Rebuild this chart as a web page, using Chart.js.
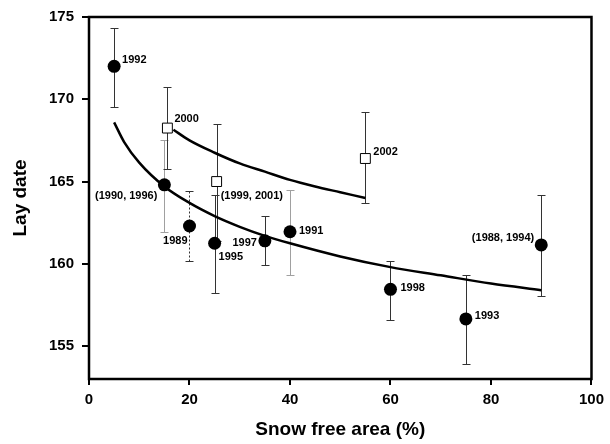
<!DOCTYPE html>
<html>
<head>
<meta charset="utf-8">
<script src="https://cdn.jsdelivr.net/npm/chart.js@4.4.1/dist/chart.umd.min.js"></script>
<style>
  html, body { margin: 0; padding: 0; background: #fff; }
</style>
</head>
<body>
<canvas id="chart" width="610" height="444"></canvas>
<script>
// Filled circles (years in pre-2000 group)
const circleLabels = ['1992', '(1990, 1996)', '1989', '1995', '1997', '1991', '1998', '1993', '(1988, 1994)'];
const circleX = [5, 15, 20, 25, 35, 40, 60, 75, 90];
const circleY = [172.0, 164.8, 162.3, 161.25, 161.4, 161.95, 158.45, 156.65, 161.15];
const circleLo = [169.55, 161.95, 160.2, 158.25, 159.9, 159.35, 156.6, 153.9, 158.05];
const circleHi = [174.35, 167.55, 164.4, 164.2, 162.9, 164.5, 160.2, 159.35, 164.2];

// Open squares (2000s)
const squareLabels = ['2000', '(1999, 2001)', '2002'];
const squareX = [15.6, 25.4, 55];
const squareY = [168.25, 165.0, 166.4];
const squareLo = [165.75, 161.4, 163.7];
const squareHi = [170.75, 168.5, 169.25];

// Fitted curves
const lowerFitX = [5, 7, 10, 15, 20, 25, 30, 35, 40, 50, 60, 70, 80, 90];
const lowerFitY = [168.6, 167.4, 166.15, 164.7, 163.7, 162.9, 162.25, 161.7, 161.25, 160.45, 159.8, 159.3, 158.8, 158.4];
const upperFitX = [16.8, 20, 25, 30, 35, 40, 45, 50, 55];
const upperFitY = [168.15, 167.5, 166.75, 166.1, 165.6, 165.1, 164.7, 164.35, 164.0];

const yTicks = [155, 160, 165, 170, 175];

const FONT = 'Liberation Sans, Arial, sans-serif';

function toPoints(xs, ys) {
    return xs.map((v, i) => ({ x: v, y: ys[i] }));
}

// error bars drawn under the markers
const errorBars = {
    id: 'errorBars',
    beforeDatasetsDraw(chart) {
        const { ctx, scales: { x, y } } = chart;
        const grey = ['(1990, 1996)', '1991'];
        const dotted = ['1989'];

        function bar(xv, lo, hi, label) {
            const px = Math.round(x.getPixelForValue(xv)) + 0.5;
            const p1 = Math.round(y.getPixelForValue(lo)) + 0.5;
            const p2 = Math.round(y.getPixelForValue(hi)) + 0.5;
            ctx.save();
            ctx.strokeStyle = grey.includes(label) ? '#a0a0a0' : '#333';
            ctx.lineWidth = 1;
            if (dotted.includes(label)) ctx.setLineDash([2, 2]);
            ctx.beginPath();
            ctx.moveTo(px, p1);
            ctx.lineTo(px, p2);
            ctx.stroke();
            ctx.setLineDash([]);
            ctx.beginPath();
            ctx.moveTo(px - 4, p1); ctx.lineTo(px + 4, p1);
            ctx.moveTo(px - 4, p2); ctx.lineTo(px + 4, p2);
            ctx.stroke();
            ctx.restore();
        }

        circleX.forEach((v, i) => bar(v, circleLo[i], circleHi[i], circleLabels[i]));
        squareX.forEach((v, i) => bar(v, squareLo[i], squareHi[i], squareLabels[i]));
    }
};

// year labels next to the markers
const yearLabels = {
    id: 'yearLabels',
    afterDatasetsDraw(chart) {
        const { ctx, scales: { x, y } } = chart;
        // [dx, dy, align]
        const place = {
            '1992': [8, -6, 'left'],
            '(1990, 1996)': [-7, 11, 'right'],
            '1989': [-2, 15, 'right'],
            '1995': [4, 14, 'left'],
            '1997': [-8, 2, 'right'],
            '1991': [9, -1, 'left'],
            '1998': [10, -1, 'left'],
            '1993': [9, -3, 'left'],
            '(1988, 1994)': [-7, -7, 'right'],
            '2000': [7, -9, 'left'],
            '(1999, 2001)': [4, 14, 'left'],
            '2002': [8, -7, 'left']
        };
        ctx.save();
        ctx.font = 'bold 11px ' + FONT;
        ctx.fillStyle = '#000';
        ctx.textBaseline = 'middle';
        function put(label, xv, yv) {
            const p = place[label];
            ctx.textAlign = p[2];
            ctx.fillText(label, x.getPixelForValue(xv) + p[0], y.getPixelForValue(yv) + p[1]);
        }
        circleLabels.forEach((l, i) => put(l, circleX[i], circleY[i]));
        squareLabels.forEach((l, i) => put(l, squareX[i], squareY[i]));
        ctx.restore();
    }
};

// frame round the plot area
const frame = {
    id: 'frame',
    afterDraw(chart) {
        const { ctx, chartArea: a } = chart;
        ctx.save();
        ctx.strokeStyle = '#000';
        ctx.lineWidth = 2.5;
        ctx.strokeRect(a.left, a.top, a.right - a.left, a.bottom - a.top);
        ctx.restore();
    }
};

const ctx = document.getElementById('chart').getContext('2d');
new Chart(ctx, {
    type: 'scatter',
    data: {
        datasets: [
            {
                data: toPoints(circleX, circleY),
                pointStyle: 'circle',
                pointRadius: 6.5,
                backgroundColor: '#000',
                borderColor: '#000',
                borderWidth: 0,
                order: 1
            },
            {
                data: toPoints(squareX, squareY),
                pointStyle: 'rect',
                pointRadius: 7,
                backgroundColor: '#fff',
                borderColor: '#000',
                borderWidth: 1,
                order: 1
            },
            {
                data: toPoints(lowerFitX, lowerFitY),
                showLine: true,
                pointRadius: 0,
                borderColor: '#000',
                borderWidth: 2.5,
                cubicInterpolationMode: 'monotone',
                order: 2
            },
            {
                data: toPoints(upperFitX, upperFitY),
                showLine: true,
                pointRadius: 0,
                borderColor: '#000',
                borderWidth: 2.5,
                cubicInterpolationMode: 'monotone',
                order: 2
            }
        ]
    },
    options: {
        responsive: false,
        animation: false,
        layout: { padding: { left: 0, right: 14, top: 16, bottom: 0 } },
        plugins: {
            legend: { display: false },
            tooltip: { enabled: false }
        },
        scales: {
            x: {
                type: 'linear',
                min: 0,
                max: 100,
                ticks: {
                    stepSize: 20,
                    color: '#000',
                    padding: 6,
                    font: { family: FONT, size: 15, weight: 'bold' }
                },
                grid: { drawOnChartArea: false, drawTicks: true, tickLength: 6, color: '#000', lineWidth: 2 },
                border: { display: false },
                title: {
                    display: true,
                    text: 'Snow free area (%)',
                    color: '#000',
                    padding: { top: 0, bottom: 3 },
                    font: { family: FONT, size: 19, weight: 'bold' }
                },
                afterFit(scale) { scale.height = 65; }
            },
            y: {
                type: 'linear',
                min: 153,
                max: 175,
                afterBuildTicks(scale) { scale.ticks = yTicks.map(v => ({ value: v })); },
                ticks: {
                    color: '#000',
                    padding: 8,
                    font: { family: FONT, size: 15, weight: 'bold' }
                },
                grid: { drawOnChartArea: false, drawTicks: true, tickLength: 7, color: '#000', lineWidth: 2 },
                border: { display: false },
                title: {
                    display: true,
                    text: 'Lay date',
                    color: '#000',
                    padding: { top: 9, bottom: 0 },
                    font: { family: FONT, size: 19, weight: 'bold' }
                },
                afterFit(scale) { scale.width = 89; }
            }
        }
    },
    plugins: [errorBars, yearLabels, frame]
});
</script>
</body>
</html>
